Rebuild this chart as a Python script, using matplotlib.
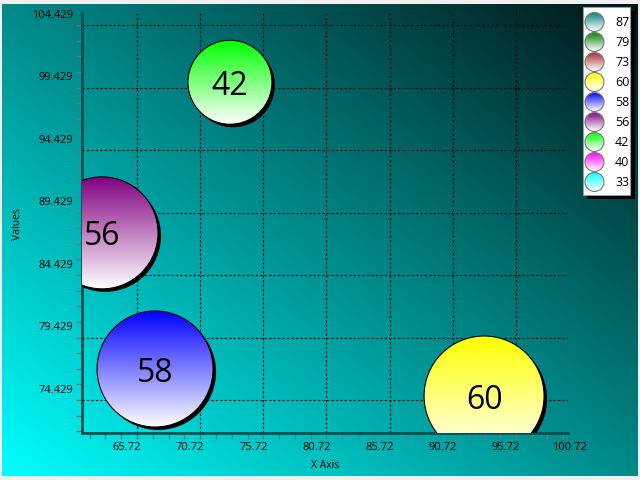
import numpy as np
import matplotlib
matplotlib.use('Agg')
import matplotlib.pyplot as plt
from matplotlib.patches import Ellipse, Rectangle, Circle
from matplotlib.colors import to_rgb
import matplotlib.transforms as mtransforms

plt.rcParams['font.family'] = ['Open Sans', 'DejaVu Sans']

# ---------------- data ----------------
bubble_labels = ['87', '79', '73', '60', '58', '56', '42', '40', '33']
bubble_sizes = [87, 79, 73, 60, 58, 56, 42, 40, 33]
x_values = [115.0, 50.0, 112.0, 93.2, 67.15, 62.95, 73.08, 45.0, 120.0]
y_values = [60.0, 115.0, 112.0, 74.75, 76.91, 87.8, 99.85, 60.0, 90.0]
bubble_colors = ['#008080', '#008000', '#A52A2A', '#FFFF00', '#0000FF',
                 '#800080', '#00FF00', '#FF00FF', '#00FFFF']
x_ticks = [65.72, 70.72, 75.72, 80.72, 85.72, 90.72, 95.72, 100.72]
x_tick_labels = ['65.72', '70.72', '75.72', '80.72', '85.72', '90.72', '95.72', '100.72']
y_ticks = [74.429, 79.429, 84.429, 89.429, 94.429, 99.429, 104.429]
y_tick_labels = ['74.429', '79.429', '84.429', '89.429', '94.429', '99.429', '104.429']
x_range = (61.365, 99.845)
y_range = (71.79, 105.39)

W, H = 640, 480
fig = plt.figure(figsize=(6.4, 4.8), dpi=100)
fig.patch.set_facecolor('#f0f0f0')

# ---------------- background gradient ----------------
bg = fig.add_axes([2 / W, 4 / H, 636 / W, 472 / H])
bg.axis('off')
u = np.linspace(0, 1, 300)
U, V = np.meshgrid(u, u)
t = (U + V) / 2
c0 = np.array([0.0, 1.0, 1.0])
c1 = np.array([0.0, 0.08, 0.08])
img = c0 * (1 - t[..., None]) + c1 * t[..., None]
bg.imshow(img, origin='lower', extent=[0, 1, 0, 1], aspect='auto')
bg.set_xlim(0, 1)
bg.set_ylim(0, 1)

# ---------------- main axes ----------------
L, R, T, B = 82, 568, 13, 433
ax = fig.add_axes([L / W, (H - B) / H, (R - L) / W, (B - T) / H])
ax.patch.set_visible(False)
ax.set_xlim(*x_range)
ax.set_ylim(*y_range)
sx = (R - L) / (x_range[1] - x_range[0])
sy = (B - T) / (y_range[1] - y_range[0])

vis_x = [v for v in x_ticks if x_range[0] <= v <= x_range[1]]
ax.set_xticks(vis_x)
ax.set_yticks(y_ticks)
ax.set_xticklabels([])
ax.set_yticklabels([])
x0 = x_ticks[0]
ax.set_xticks(np.arange(x0 - 1.25 * 3, x_range[1], 1.25), minor=True)
ax.set_yticks(np.arange(y_ticks[0] - 1.25 * 2, y_range[1], 1.25), minor=True)
ax.tick_params(which='both', direction='out', length=4, width=1, color='#6a7a7a')
ax.grid(True, which='major', color='black', linestyle=(0, (2, 2)), linewidth=0.8)
ax.set_axisbelow(True)
for s in ['top', 'right']:
    ax.spines[s].set_visible(False)
for s in ['left', 'bottom']:
    ax.spines[s].set_color('#0b4f4f')
    ax.spines[s].set_linewidth(2)

# tick labels (offset like the reference)
dpi = fig.dpi
xoff = mtransforms.ScaledTranslation(-10 / dpi, -14 / dpi, fig.dpi_scale_trans)
xtr = mtransforms.blended_transform_factory(ax.transData, ax.transAxes) + xoff
for v, lab in zip(x_ticks, x_tick_labels):
    ax.text(v, 0, lab, transform=xtr, ha='center', va='center', fontsize=8,
            color='black', clip_on=False)
yoff = mtransforms.ScaledTranslation(-9 / dpi, 10 / dpi, fig.dpi_scale_trans)
ytr = mtransforms.blended_transform_factory(ax.transAxes, ax.transData) + yoff
for v, lab in zip(y_ticks, y_tick_labels):
    ax.text(0, v, lab, transform=ytr, ha='right', va='center', fontsize=8,
            color='black', clip_on=False)

# ---------------- bubbles ----------------
N = 256
tt = np.linspace(0, 1, N)[:, None, None]
for lab, r, x, y, col in zip(bubble_labels, bubble_sizes, x_values, y_values, bubble_colors):
    rx, ry = r / sx, r / sy
    shadow = Ellipse((x + 3 / sx, y - 3 / sy), 2 * rx, 2 * ry,
                     facecolor='black', edgecolor='none', zorder=3)
    ax.add_patch(shadow)
    c = np.array(to_rgb(col))[None, None, :]
    grad = c * (1 - tt) + np.ones(3)[None, None, :] * tt
    im = ax.imshow(grad, extent=[x - rx, x + rx, y - ry, y + ry], origin='upper',
                   aspect='auto', zorder=4, interpolation='bilinear')
    clip = Ellipse((x, y), 2 * rx, 2 * ry, facecolor='none', edgecolor='none',
                   transform=ax.transData)
    ax.add_patch(clip)
    im.set_clip_path(clip)
    edge = Ellipse((x, y), 2 * rx, 2 * ry, facecolor='none', edgecolor='black',
                   linewidth=0.8, zorder=5)
    ax.add_patch(edge)
    if x_range[0] <= x <= x_range[1] and y_range[0] <= y <= y_range[1]:
        ax.text(x, y, lab, ha='center', va='center_baseline', fontsize=23,
                color='black', zorder=6, clip_on=True)

ax.set_xlim(*x_range)
ax.set_ylim(*y_range)

# axis titles
fig.text(18 / W, 1 - 224 / H, 'Values', rotation=90, ha='center', va='center', fontsize=7.5)
fig.text(325 / W, 1 - 466 / H, 'X Axis', ha='center', va='center', fontsize=7.5)

# ---------------- legend ----------------
lay = fig.add_axes([0, 0, 1, 1], zorder=10)
lay.set_xlim(0, W)
lay.set_ylim(H, 0)
lay.axis('off')
lay.add_patch(Rectangle((587, 11), 48, 188, facecolor='black', edgecolor='none'))
lay.add_patch(Rectangle((583, 7), 47, 188, facecolor='white', edgecolor='#9a9a9a', linewidth=0.8))
for i, (lab, col) in enumerate(zip(bubble_labels, bubble_colors)):
    cy = 22 + 20 * i
    cx = 594.5
    rr = 9.5
    c = np.array(to_rgb(col))[None, None, :]
    grad = c * (1 - tt) + np.ones(3)[None, None, :] * tt
    im = lay.imshow(grad, extent=[cx - rr, cx + rr, cy + rr, cy - rr], origin='upper',
                    aspect='auto', zorder=11, interpolation='bilinear')
    cp = Circle((cx, cy), rr, facecolor='none', edgecolor='none')
    lay.add_patch(cp)
    im.set_clip_path(cp)
    lay.add_patch(Circle((cx, cy), rr, facecolor='none', edgecolor='#7a7a7a',
                         linewidth=0.8, zorder=12))
    lay.text(615, cy, lab, ha='left', va='center', fontsize=9, color='black', zorder=12)
lay.set_xlim(0, W)
lay.set_ylim(H, 0)

fig.savefig('out.png', dpi=100, facecolor=fig.get_facecolor())
